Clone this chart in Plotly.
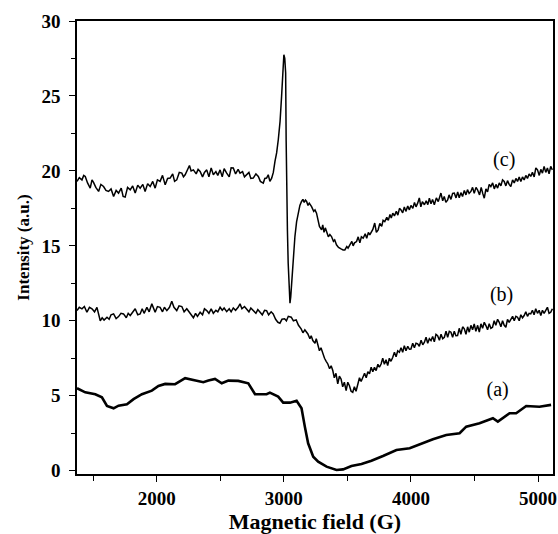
import plotly.graph_objects as go

# Curve (a)
a_x = [1372, 1437, 1516, 1568, 1608, 1660, 1699, 1765, 1817, 1883, 1961, 2013, 2066, 2144, 2223,
       2301, 2366, 2406, 2458, 2511, 2563, 2641, 2720, 2773, 2864, 2890, 2955, 2995, 3048, 3100,
       3139, 3165, 3191, 3231, 3270, 3336, 3414, 3466, 3532, 3611, 3689, 3780, 3886, 3990, 4069,
       4173, 4278, 4383, 4435, 4540, 4645, 4684, 4776, 4828, 4907, 5011, 5103]
a_y = [5.5, 5.23, 5.10, 4.9, 4.32, 4.16, 4.34, 4.43, 4.77, 5.10, 5.34, 5.65, 5.79, 5.77, 6.17,
       6.01, 5.90, 6.01, 6.12, 5.83, 6.01, 5.99, 5.83, 5.10, 5.10, 5.21, 4.94, 4.54, 4.54, 4.67,
       4.17, 2.94, 1.83, 0.93, 0.60, 0.27, 0.05, 0.09, 0.31, 0.45, 0.67, 0.98, 1.38, 1.50, 1.78,
       2.10, 2.38, 2.50, 2.94, 3.16, 3.50, 3.27, 3.83, 3.83, 4.32, 4.27, 4.39]

# Curve (b)
b_x = [1372, 1390, 1411, 1430, 1450, 1470, 1490, 1510, 1529, 1542,
       1555, 1570, 1585, 1608, 1625, 1640, 1660, 1680, 1699, 1718,
       1738, 1760, 1775, 1791, 1810, 1830, 1850, 1869, 1885, 1900,
       1922, 1940, 1961, 1975, 1987, 2005, 2026, 2045, 2060, 2079,
       2100, 2118, 2135, 2157, 2175, 2197, 2215, 2236, 2260, 2275,
       2288, 2305, 2320, 2341, 2360, 2375, 2393, 2410, 2428, 2445,
       2465, 2480, 2498, 2515, 2530, 2550, 2570, 2585, 2602, 2620,
       2640, 2655, 2670, 2690, 2707, 2725, 2740, 2759, 2780, 2795,
       2812, 2830, 2848, 2864, 2880, 2900, 2916, 2935, 2953, 2969,
       2985, 3006, 3020, 3035, 3058, 3075, 3097, 3115, 3136, 3150,
       3165, 3189, 3205, 3215, 3228, 3245, 3255, 3267, 3280, 3292,
       3307, 3320, 3333, 3346, 3360, 3372, 3385, 3397, 3410, 3424,
       3437, 3450, 3463, 3476, 3490, 3503, 3516, 3529, 3542, 3555,
       3568, 3582, 3595, 3608, 3621, 3635, 3648, 3661, 3674, 3687,
       3700, 3713, 3726, 3740, 3752, 3765, 3778, 3791, 3804, 3817,
       3830, 3843, 3857, 3870, 3883, 3896, 3909, 3922, 3935, 3948,
       3961, 3975, 3988, 4000, 4014, 4027, 4040, 4053, 4066, 4080,
       4093, 4106, 4119, 4132, 4145, 4158, 4171, 4184, 4197, 4210,
       4224, 4237, 4250, 4263, 4276, 4289, 4302, 4315, 4328, 4341,
       4354, 4367, 4380, 4393, 4407, 4420, 4433, 4446, 4459, 4472,
       4485, 4498, 4511, 4525, 4538, 4551, 4564, 4577, 4590, 4603,
       4616, 4629, 4642, 4655, 4668, 4682, 4695, 4708, 4721, 4734,
       4747, 4760, 4773, 4786, 4800, 4813, 4826, 4839, 4852, 4865,
       4878, 4891, 4904, 4917, 4930, 4943, 4956, 4969, 4982, 4996,
       5009, 5022, 5035, 5048, 5061, 5074, 5087, 5100, 5113]
b_y = [10.68, 10.9, 10.8, 10.95, 10.57, 10.9, 10.8, 10.6, 10.9, 10.4,
       10.0, 10.2, 10.05, 10.24, 10.1, 10.4, 10.46, 10.15, 10.28, 10.5,
       10.46, 10.2, 10.5, 10.35, 10.6, 10.8, 10.4, 10.46, 10.8, 10.5,
       10.9, 10.6, 11.13, 10.8, 10.57, 10.95, 10.9, 10.6, 10.9, 10.68,
       10.9, 11.3, 10.9, 10.68, 11.0, 10.95, 10.6, 10.8, 10.5, 10.3,
       10.2, 10.5, 10.3, 10.57, 10.4, 10.8, 10.68, 10.5, 10.8, 10.5,
       10.7, 10.6, 10.9, 10.7, 10.85, 10.61, 10.8, 10.6, 10.86, 10.7,
       10.9, 11.13, 10.8, 10.95, 10.8, 10.6, 10.85, 10.68, 10.5, 10.75,
       10.57, 10.4, 10.7, 10.68, 10.4, 10.6, 10.46, 10.1, 9.9, 9.84,
       10.1, 10.13, 10.0, 10.3, 10.24, 10.0, 10.06, 9.7, 9.46, 9.2,
       9.4, 9.12, 8.8, 9.0, 8.68, 8.5, 8.8, 8.46, 8.0, 8.2,
       7.79, 7.5, 7.3, 7.12, 6.8, 7.0, 6.68, 6.2, 6.5, 5.79,
       6.3, 6.12, 5.6, 5.9, 5.34, 5.9, 5.67, 5.3, 5.23, 5.6,
       5.3, 5.79, 6.2, 5.95, 6.24, 6.5, 6.2, 6.6, 6.46, 6.9,
       6.6, 6.9, 6.68, 7.1, 6.9, 7.12, 7.5, 7.1, 7.4, 7.01,
       7.5, 7.3, 7.57, 7.9, 7.6, 8.0, 7.9, 8.2, 7.9, 8.34,
       8.0, 8.3, 8.1, 8.12, 8.5, 8.2, 8.5, 8.46, 8.3, 8.7,
       8.4, 8.57, 8.9, 8.5, 8.8, 8.68, 8.95, 8.6, 9.1, 9.01,
       8.7, 9.1, 8.8, 8.9, 9.3, 8.9, 9.3, 9.24, 8.9, 9.3,
       9.0, 9.01, 9.5, 9.1, 9.6, 9.46, 9.1, 9.6, 9.24, 9.7,
       9.4, 9.79, 9.3, 9.7, 9.24, 9.8, 9.5, 9.9, 9.68, 9.4,
       9.8, 9.5, 9.57, 10.0, 9.7, 10.1, 9.9, 9.6, 10.0, 9.7,
       9.57, 10.1, 9.9, 10.13, 10.3, 10.0, 10.3, 10.24, 10.0, 10.4,
       10.2, 10.35, 10.6, 10.3, 10.5, 10.46, 10.7, 10.4, 10.8, 10.5,
       10.7, 10.35, 10.7, 10.5, 10.68, 10.9, 10.5, 10.57, 10.8]

# Curve (c)
c_x = [1372, 1390, 1411, 1425, 1437, 1455, 1476, 1490, 1502, 1520,
       1542, 1560, 1581, 1600, 1620, 1640, 1660, 1680, 1699, 1720,
       1735, 1751, 1770, 1791, 1810, 1830, 1850, 1869, 1890, 1908,
       1928, 1948, 1968, 1987, 2005, 2026, 2045, 2066, 2085, 2105,
       2125, 2140, 2157, 2177, 2197, 2210, 2223, 2240, 2257, 2270,
       2288, 2310, 2325, 2341, 2360, 2375, 2393, 2410, 2428, 2445,
       2465, 2480, 2498, 2515, 2530, 2550, 2570, 2585, 2602, 2620,
       2640, 2655, 2675, 2690, 2707, 2725, 2740, 2759, 2780, 2799,
       2815, 2838, 2850, 2864, 2877, 2890, 2904, 2917, 2930, 2943,
       2956, 2970, 2982, 2992, 3000, 3007, 3014, 3018, 3022, 3028,
       3034, 3041, 3048, 3054, 3061, 3074, 3087, 3100, 3113, 3126,
       3139, 3150, 3160, 3170, 3179, 3190, 3200, 3218, 3235, 3245,
       3257, 3270, 3280, 3297, 3306, 3316, 3326, 3336, 3350, 3362,
       3375, 3390, 3400, 3414, 3430, 3450, 3466, 3480, 3495, 3505,
       3519, 3535, 3545, 3556, 3572, 3585, 3598, 3610, 3624, 3640,
       3652, 3665, 3676, 3690, 3700, 3715, 3728, 3742, 3755, 3770,
       3781, 3794, 3810, 3822, 3835, 3845, 3857, 3870, 3885, 3897,
       3910, 3922, 3935, 3948, 3960, 3975, 3988, 4000, 4015, 4028,
       4040, 4053, 4066, 4078, 4090, 4106, 4120, 4133, 4145, 4158,
       4170, 4184, 4200, 4215, 4226, 4236, 4250, 4262, 4275, 4289,
       4300, 4315, 4328, 4341, 4355, 4368, 4380, 4393, 4406, 4420,
       4433, 4445, 4458, 4472, 4485, 4498, 4512, 4524, 4540, 4553,
       4565, 4577, 4590, 4603, 4616, 4629, 4643, 4656, 4669, 4682,
       4695, 4708, 4721, 4734, 4747, 4760, 4773, 4786, 4800, 4813,
       4826, 4839, 4852, 4865, 4878, 4891, 4904, 4917, 4930, 4943,
       4956, 4970, 4983, 4996, 5010, 5022, 5035, 5048, 5061, 5074,
       5087, 5100, 5113]
c_y = [19.3, 19.55, 19.4, 19.7, 19.63, 19.2, 18.85, 19.4, 19.23, 18.9,
       18.63, 19.1, 18.96, 18.7, 18.63, 18.8, 18.29, 18.7, 18.52, 18.85,
       18.3, 18.25, 18.9, 18.74, 19.0, 18.52, 19.05, 18.85, 19.1, 18.63,
       19.15, 18.96, 19.3, 18.85, 19.4, 19.3, 19.7, 19.07, 19.5, 19.52,
       19.8, 19.3, 19.4, 19.9, 19.85, 19.6, 19.74, 20.0, 20.36, 20.0,
       20.07, 19.8, 20.1, 19.96, 19.6, 19.9, 20.07, 19.6, 20.2, 19.74,
       19.95, 19.7, 20.07, 19.6, 20.15, 19.85, 19.6, 20.2, 20.19, 19.8,
       20.1, 19.85, 19.95, 19.6, 19.74, 19.9, 19.5, 19.52, 19.8, 19.63,
       19.3, 19.19, 19.5, 19.52, 19.74, 19.3, 19.52, 19.9, 20.63, 21.2,
       22.08, 23.3, 24.97, 26.5, 27.75, 27.5, 26.53, 22.0, 18.29, 16.0,
       13.84, 12.3, 11.17, 11.6, 12.51, 14.2, 15.62, 16.6, 17.18, 17.7,
       17.96, 18.1, 17.9, 18.05, 17.96, 17.7, 17.85, 17.62, 17.3, 17.4,
       17.18, 16.7, 16.3, 16.07, 16.4, 15.9, 16.2, 15.95, 15.6, 15.75,
       15.62, 15.3, 15.4, 15.07, 14.9, 14.8, 14.73, 14.73, 14.95, 14.85,
       15.07, 15.3, 15.0, 15.2, 15.29, 15.6, 15.2, 15.6, 15.51, 15.8,
       15.5, 15.9, 15.73, 15.9, 16.1, 16.52, 15.9, 16.07, 16.5, 16.3,
       16.7, 16.62, 16.9, 16.7, 17.1, 16.85, 17.18, 17.0, 17.3, 17.05,
       17.5, 17.4, 17.2, 17.6, 17.3, 17.65, 17.4, 17.7, 17.5, 17.9,
       17.6, 17.85, 18.2, 17.6, 17.95, 17.74, 18.0, 17.75, 18.18, 17.8,
       18.1, 17.74, 18.2, 17.95, 18.3, 18.52, 18.0, 18.3, 17.9, 18.07,
       18.4, 18.1, 18.5, 18.52, 18.2, 18.6, 18.2, 18.55, 18.29, 18.7,
       18.4, 18.75, 18.5, 18.63, 18.9, 18.5, 18.9, 18.74, 18.4, 18.9,
       18.5, 18.18, 18.8, 18.6, 19.1, 18.96, 19.2, 18.8, 19.1, 18.85,
       19.2, 19.0, 19.4, 19.3, 19.0, 19.35, 19.1, 18.96, 19.4, 19.2,
       19.5, 19.3, 19.6, 19.3, 19.6, 19.4, 19.7, 19.5, 19.8, 19.63,
       19.9, 19.6, 20.2, 20.07, 19.7, 20.1, 19.85, 20.3, 19.9, 20.19,
       19.8, 20.3, 20.07]

labels = ["(a)", "(b)", "(c)"]
label_x = [4682, 4713, 4734]
label_y = [5.34, 11.68, 20.63]

fig = go.Figure()
fig.add_trace(go.Scatter(x=a_x, y=a_y, mode="lines", line=dict(color="black", width=2.6), showlegend=False))
fig.add_trace(go.Scatter(x=b_x, y=b_y, mode="lines", line=dict(color="black", width=1.5), showlegend=False))
fig.add_trace(go.Scatter(x=c_x, y=c_y, mode="lines", line=dict(color="black", width=1.5), showlegend=False))
fig.add_trace(go.Scatter(x=label_x, y=label_y, mode="text", text=labels,
                         textfont=dict(family="Liberation Serif", size=20, color="black"),
                         showlegend=False))

axis_common = dict(showline=True, linecolor="black", linewidth=1.5, mirror=True,
                   ticks="outside", ticklen=6, tickwidth=1.2, tickcolor="black",
                   showgrid=False, zeroline=False, automargin=False,
                   tickfont=dict(family="Liberation Serif", size=19, color="black", weight="bold"))

fig.update_xaxes(range=[1372, 5118], tickvals=[2000, 3000, 4000, 5000],
                 minor=dict(ticks="outside", ticklen=5, tickcolor="black", dtick=500, tick0=1500),
                 ticklabelstandoff=0,
                 title=dict(text="Magnetic field (G)", standoff=10,
                            font=dict(family="Liberation Serif", size=22, color="black", weight="bold")),
                 **axis_common)
fig.update_yaxes(range=[-0.22, 30], tickvals=[0, 5, 10, 15, 20, 25, 30],
                 minor=dict(ticks="outside", ticklen=4, tickcolor="black", dtick=2.5, tick0=0),
                 ticklabelstandoff=5,
                 title=dict(text="Intensity (a.u.)", standoff=8,
                            font=dict(family="Liberation Serif", size=17, color="black", weight="bold")),
                 **axis_common)

fig.update_layout(width=558, height=534, margin=dict(l=77, r=5, t=21, b=60),
                  plot_bgcolor="white", paper_bgcolor="white")
fig.write_html("out.html", config={"displayModeBar": False},
               post_script="document.body.style.margin='0px';")
